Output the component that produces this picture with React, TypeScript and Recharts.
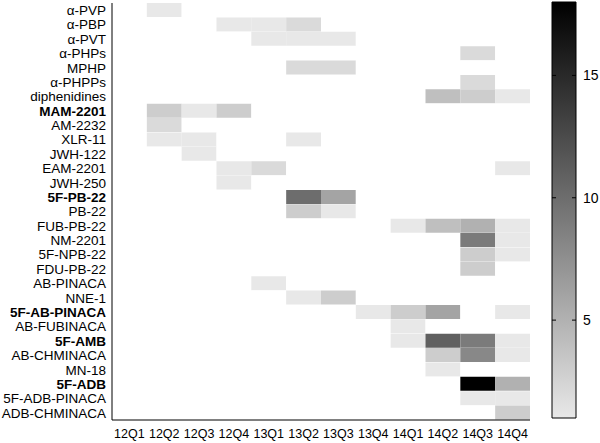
import { BarChart, Bar, Cell, XAxis, YAxis } from 'recharts';

const compounds = [
  'α-PVP', 'α-PBP', 'α-PVT', 'α-PHPs', 'MPHP', 'α-PHPPs', 'diphenidines',
  'MAM-2201', 'AM-2232', 'XLR-11', 'JWH-122', 'EAM-2201', 'JWH-250',
  '5F-PB-22', 'PB-22', 'FUB-PB-22', 'NM-2201', '5F-NPB-22', 'FDU-PB-22',
  'AB-PINACA', 'NNE-1', '5F-AB-PINACA', 'AB-FUBINACA', '5F-AMB',
  'AB-CHMINACA', 'MN-18', '5F-ADB', '5F-ADB-PINACA', 'ADB-CHMINACA',
];

const boldCompounds = ['MAM-2201', '5F-PB-22', '5F-AB-PINACA', '5F-AMB', '5F-ADB'];

const quarters = ['12Q1', '12Q2', '12Q3', '12Q4', '13Q1', '13Q2', '13Q3', '13Q4', '14Q1', '14Q2', '14Q3', '14Q4'];

// counts per compound, one value per quarter
const counts = [
  [0, 1, 0, 0, 0, 0, 0, 0, 0, 0, 0, 0],
  [0, 0, 0, 1, 1, 2, 0, 0, 0, 0, 0, 0],
  [0, 0, 0, 0, 1, 1, 1, 0, 0, 0, 0, 0],
  [0, 0, 0, 0, 0, 0, 0, 0, 0, 0, 2, 0],
  [0, 0, 0, 0, 0, 2, 2, 0, 0, 0, 0, 0],
  [0, 0, 0, 0, 0, 0, 0, 0, 0, 0, 2, 0],
  [0, 0, 0, 0, 0, 0, 0, 0, 0, 4, 3, 1],
  [0, 3, 1, 3, 0, 0, 0, 0, 0, 0, 0, 0],
  [0, 2, 0, 0, 0, 0, 0, 0, 0, 0, 0, 0],
  [0, 1, 1, 0, 0, 1, 0, 0, 0, 0, 0, 0],
  [0, 0, 1, 0, 0, 0, 0, 0, 0, 0, 0, 0],
  [0, 0, 0, 1, 2, 0, 0, 0, 0, 0, 0, 1],
  [0, 0, 0, 1, 0, 0, 0, 0, 0, 0, 0, 0],
  [0, 0, 0, 0, 0, 10, 6, 0, 0, 0, 0, 0],
  [0, 0, 0, 0, 0, 3, 1, 0, 0, 0, 0, 0],
  [0, 0, 0, 0, 0, 0, 0, 0, 1, 4, 5, 1],
  [0, 0, 0, 0, 0, 0, 0, 0, 0, 0, 9, 1],
  [0, 0, 0, 0, 0, 0, 0, 0, 0, 0, 3, 1],
  [0, 0, 0, 0, 0, 0, 0, 0, 0, 0, 3, 0],
  [0, 0, 0, 0, 1, 0, 0, 0, 0, 0, 0, 0],
  [0, 0, 0, 0, 0, 1, 3, 0, 0, 0, 0, 0],
  [0, 0, 0, 0, 0, 0, 0, 1, 3, 6, 0, 1],
  [0, 0, 0, 0, 0, 0, 0, 0, 1, 0, 0, 0],
  [0, 0, 0, 0, 0, 0, 0, 0, 1, 11, 9, 1],
  [0, 0, 0, 0, 0, 0, 0, 0, 0, 3, 8, 1],
  [0, 0, 0, 0, 0, 0, 0, 0, 0, 1, 0, 0],
  [0, 0, 0, 0, 0, 0, 0, 0, 0, 0, 18, 5],
  [0, 0, 0, 0, 0, 0, 0, 0, 0, 0, 1, 1],
  [0, 0, 0, 0, 0, 0, 0, 0, 0, 0, 0, 3],
];

const colorbarTicks = [5, 10, 15];
const minCount = 1;
const maxCount = 18;

const FONT = 'Arial, "Liberation Sans", sans-serif';

const grayFor = (v: number) => {
  if (!v) return '#ffffff';
  const g = Math.round((232 * (maxCount - v)) / (maxCount - minCount));
  return `rgb(${g},${g},${g})`;
};

// every cell is one unit wide, stacked along the quarters
const rows = compounds.map((name) => {
  const row: Record<string, string | number> = { name };
  quarters.forEach((q) => (row[q] = 1));
  return row;
});

const CompoundTick = ({ x, y, payload }: any) => (
  <text
    x={x}
    y={y}
    dy="0.36em"
    textAnchor="end"
    fontSize={13.5}
    fontFamily={FONT}
    fill="#000"
    fontWeight={boldCompounds.includes(payload.value) ? 'bold' : 'normal'}
  >
    {payload.value}
  </text>
);

const ColorbarTick = ({ x, y, payload }: any) => (
  <g>
    <line x1={12} x2={16} y1={y} y2={y} stroke="#000" />
    <line x1={32} x2={36} y1={y} y2={y} stroke="#000" />
    <text x={x} y={y} dy="0.36em" fontSize={14} fontFamily={FONT} fill="#000">
      {payload.value}
    </text>
  </g>
);

const colorbarData = [{ name: 'scale', range: [minCount, maxCount] }];

export default function App() {
  return (
    <div style={{ position: 'absolute', left: 0, top: 0, width: 600, height: 443, background: '#fff' }}>
      <div style={{ position: 'absolute', left: 0, top: 0 }}>
        <BarChart
          width={540}
          height={443}
          data={rows}
          layout="vertical"
          barCategoryGap={0}
          margin={{ top: 3, right: 10, bottom: 0, left: 0 }}
        >
          <XAxis
            type="number"
            domain={[0, quarters.length]}
            ticks={quarters.map((_, i) => i + 0.5)}
            tickFormatter={(v: number) => quarters[Math.floor(v)]}
            interval={0}
            tickLine={false}
            tickSize={0}
            tickMargin={9}
            height={23}
            stroke="#000"
            tick={{ fill: '#000', fontSize: 12.5, fontFamily: FONT }}
          />
          <XAxis xAxisId="top" orientation="top" type="number" domain={[0, 1]} tick={false} tickLine={false} height={0} stroke="#000" />
          <YAxis
            type="category"
            dataKey="name"
            width={112}
            interval={0}
            tickLine={false}
            tickSize={0}
            tickMargin={6}
            stroke="#000"
            tick={<CompoundTick />}
          />
          <YAxis yAxisId="right" orientation="right" type="number" domain={[0, 1]} tick={false} tickLine={false} width={0} stroke="#000" />
          {quarters.map((q, qi) => (
            <Bar key={q} dataKey={q} stackId="cells" isAnimationActive={false}>
              {compounds.map((c, ci) => (
                <Cell key={c} fill={grayFor(counts[ci][qi])} />
              ))}
            </Bar>
          ))}
        </BarChart>
      </div>
      <div style={{ position: 'absolute', left: 540, top: 0 }}>
        <BarChart
          width={60}
          height={443}
          data={colorbarData}
          barCategoryGap={0}
          margin={{ top: 2, right: 0, bottom: 25, left: 12 }}
        >
          <defs>
            <linearGradient id="cbar" x1="0" y1="1" x2="0" y2="0">
              <stop offset="0%" stopColor="rgb(232,232,232)" />
              <stop offset="100%" stopColor="#000" />
            </linearGradient>
          </defs>
          <XAxis dataKey="name" hide />
          <YAxis
            orientation="right"
            type="number"
            domain={[minCount, maxCount]}
            ticks={colorbarTicks}
            width={24}
            axisLine={false}
            tickLine={false}
            tickSize={0}
            tickMargin={7}
            tick={<ColorbarTick />}
          />
          <Bar dataKey="range" fill="url(#cbar)" stroke="#000" strokeWidth={1} isAnimationActive={false} />
        </BarChart>
      </div>
    </div>
  );
}
